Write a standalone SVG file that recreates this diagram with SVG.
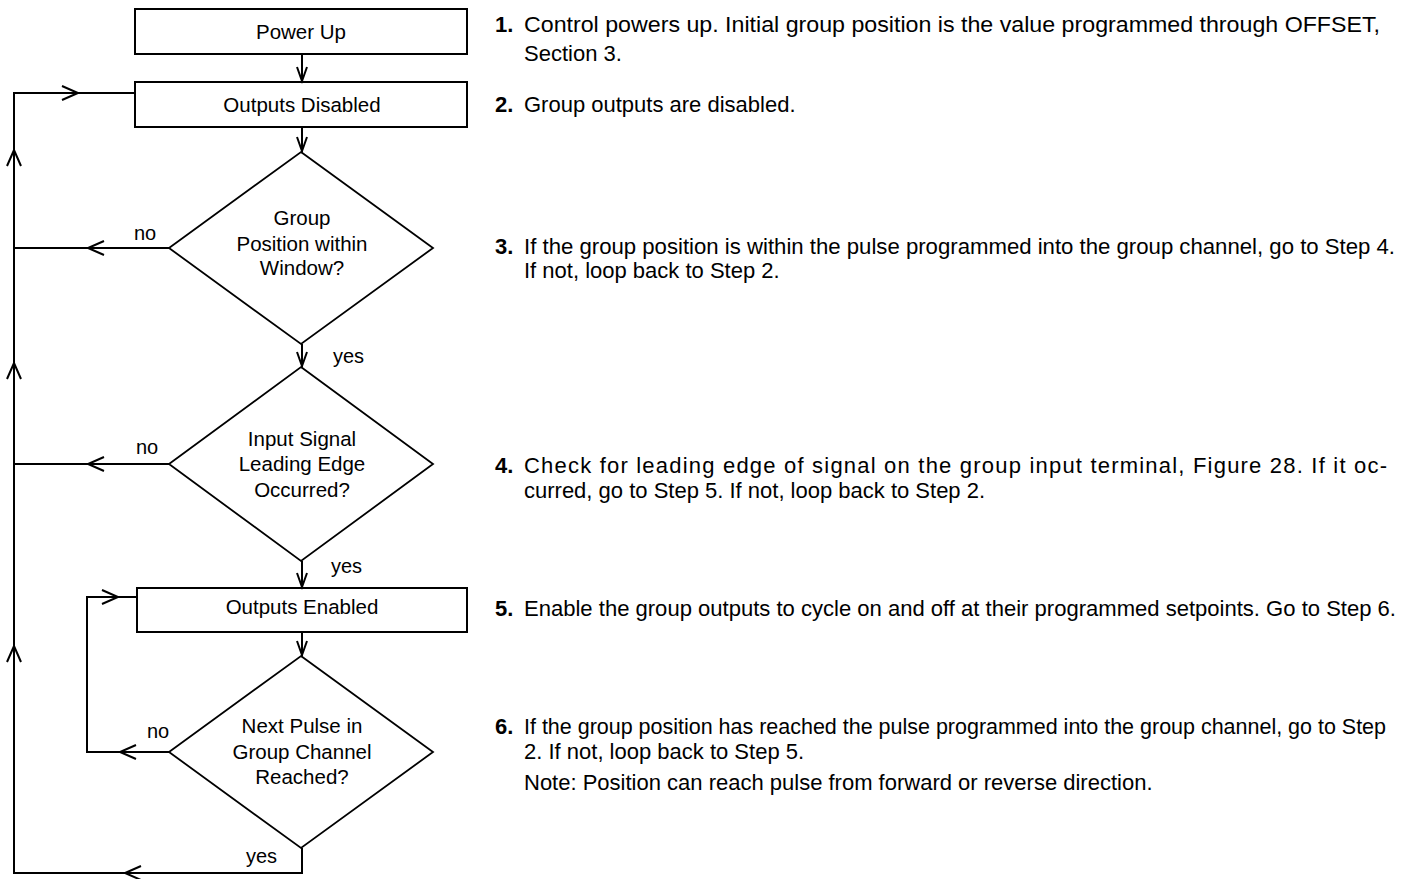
<svg xmlns="http://www.w3.org/2000/svg" xmlns:xlink="http://www.w3.org/1999/xlink" width="1416" height="879" viewBox="0 0 1416 879">
  <style>
    .box { fill: #fff; stroke: #000; stroke-width: 2; }
    .dia { fill: #fff; stroke: #000; stroke-width: 1.8; }
    .wire { fill: none; stroke: #000; stroke-width: 2; }
    .node { font-family: "Liberation Sans", Arial, sans-serif; font-size: 20.5px; text-anchor: middle; fill: #000; }
    .lbl { font-family: "Liberation Sans", Arial, sans-serif; font-size: 20px; fill: #000; }
    .step { font-family: "Liberation Sans", Arial, sans-serif; font-size: 22px; fill: #000; }
    .num { font-weight: bold; }
  </style>
  <defs>
    <!-- open chevron heads, tip at origin, pointing along +x -->
    <path id="head" d="M-16,-7 L0,0 L-16,7" fill="none" stroke="#000" stroke-width="2"/>
    <path id="headS" d="M-14,-5 L0,0 L-14,5" fill="none" stroke="#000" stroke-width="2"/>
  </defs>

  <!-- flow nodes -->
  <g id="power-up">
    <rect class="box" x="135" y="9" width="332" height="45"/>
    <text class="node" x="301" y="39">Power  Up</text>
  </g>
  <g id="outputs-disabled">
    <rect class="box" x="135" y="82" width="332" height="45"/>
    <text class="node" x="302" y="112">Outputs Disabled</text>
  </g>
  <g id="window-check">
    <polygon class="dia" points="301,152 433,248 301,344 169,248"/>
    <text class="node" x="302" y="225">Group</text>
    <text class="node" x="302" y="251">Position within</text>
    <text class="node" x="302" y="275">Window?</text>
  </g>
  <g id="edge-check">
    <polygon class="dia" points="301,367 433,464 301,561 169,464"/>
    <text class="node" x="302" y="446">Input Signal</text>
    <text class="node" x="302" y="471">Leading Edge</text>
    <text class="node" x="302" y="497">Occurred?</text>
  </g>
  <g id="outputs-enabled">
    <rect class="box" x="137" y="588" width="330" height="44"/>
    <text class="node" x="302" y="614">Outputs Enabled</text>
  </g>
  <g id="pulse-check">
    <polygon class="dia" points="301,656 433,752 301,848 169,752"/>
    <text class="node" x="302" y="733">Next Pulse in</text>
    <text class="node" x="302" y="759">Group  Channel</text>
    <text class="node" x="302" y="784">Reached?</text>
  </g>

  <!-- connectors -->
  <g id="connectors">
    <path class="wire" d="M302,54 V82"/>
    <use xlink:href="#headS" transform="translate(302,81) rotate(90)"/>
    <path class="wire" d="M302,127 V152"/>
    <use xlink:href="#headS" transform="translate(302,151) rotate(90)"/>
    <path class="wire" d="M302,344 V367"/>
    <use xlink:href="#headS" transform="translate(302,366) rotate(90)"/>
    <path class="wire" d="M302,561 V588"/>
    <use xlink:href="#headS" transform="translate(302,587) rotate(90)"/>
    <path class="wire" d="M302,632 V656"/>
    <use xlink:href="#headS" transform="translate(302,655) rotate(90)"/>

    <!-- "no" returns to Outputs Disabled -->
    <path class="wire" d="M169,248 H14"/>
    <use xlink:href="#head" transform="translate(88,248) rotate(180)"/>
    <path class="wire" d="M169,464 H14"/>
    <use xlink:href="#head" transform="translate(88,464) rotate(180)"/>

    <!-- inner loop back to Outputs Enabled -->
    <path class="wire" d="M169,752 H87 V597 H137"/>
    <use xlink:href="#head" transform="translate(120,752) rotate(180)"/>
    <use xlink:href="#head" transform="translate(118,597)"/>

    <!-- "yes" from last check back to the top -->
    <path class="wire" d="M302,848 V873 H14 V93 H135"/>
    <use xlink:href="#head" transform="translate(125,873) rotate(180)"/>
    <use xlink:href="#head" transform="translate(14,646) rotate(-90)"/>
    <use xlink:href="#head" transform="translate(14,363) rotate(-90)"/>
    <use xlink:href="#head" transform="translate(14,150) rotate(-90)"/>
    <use xlink:href="#head" transform="translate(78,93)"/>

    <text class="lbl" x="134" y="240">no</text>
    <text class="lbl" x="333" y="363">yes</text>
    <text class="lbl" x="136" y="454">no</text>
    <text class="lbl" x="331" y="573">yes</text>
    <text class="lbl" x="147" y="738">no</text>
    <text class="lbl" x="246" y="863">yes</text>
  </g>

  <!-- step descriptions -->
  <g id="steps">
    <text class="step num" x="495" y="32">1.</text>
    <text class="step" x="524" y="32" textLength="856" lengthAdjust="spacingAndGlyphs">Control powers up. Initial group position is the value programmed through OFFSET,</text>
    <text class="step" x="524" y="61">Section 3.</text>

    <text class="step num" x="495" y="112">2.</text>
    <text class="step" x="524" y="112">Group outputs are disabled.</text>

    <text class="step num" x="495" y="254">3.</text>
    <text class="step" x="524" y="254" textLength="871" lengthAdjust="spacingAndGlyphs">If the group position is within the pulse programmed into the group channel, go to Step 4.</text>
    <text class="step" x="524" y="278">If not, loop back to Step 2.</text>

    <text class="step num" x="495" y="473">4.</text>
    <text class="step" x="524" y="473" textLength="863" lengthAdjust="spacing">Check for leading edge of signal on the group input terminal, Figure 28. If it oc-</text>
    <text class="step" x="524" y="498">curred, go to Step 5. If not, loop back to Step 2.</text>

    <text class="step num" x="495" y="616">5.</text>
    <text class="step" x="524" y="616" textLength="872" lengthAdjust="spacingAndGlyphs">Enable the group outputs to cycle on and off at their programmed setpoints. Go to Step 6.</text>

    <text class="step num" x="495" y="734">6.</text>
    <text class="step" x="524" y="734" textLength="862" lengthAdjust="spacingAndGlyphs">If the group position has reached the pulse programmed into the group channel, go to Step</text>
    <text class="step" x="524" y="759">2. If not, loop back to Step 5.</text>
    <text class="step" x="524" y="790">Note: Position can reach pulse from forward or reverse direction.</text>
  </g>
</svg>
